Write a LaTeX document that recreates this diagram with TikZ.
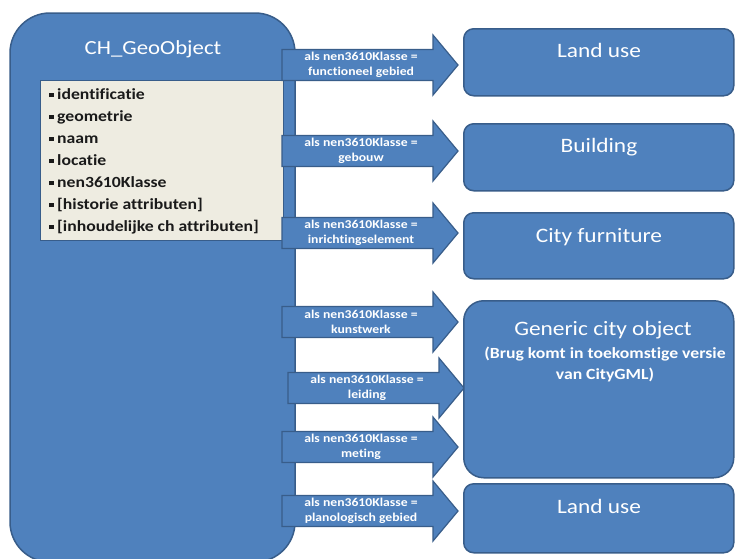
\documentclass[tikz,border=0pt]{standalone}
\usepackage{fontspec}
\setmainfont[FakeStretch=1.14, Ligatures=NoCommon]{Carlito}
\definecolor{boxblue}{HTML}{4F81BD}
\definecolor{edgeblue}{HTML}{385D8A}
\definecolor{paper}{HTML}{EEECE1}
\definecolor{ink}{HTML}{1A1A1A}

% block arrow: name, tail x, middle y, label
\newcommand\flowarrow[4]{%
  \draw[arrowbody] (#2,{#3-15.5}) -- ({#2+151},{#3-15.5}) -- ({#2+151},{#3-30})
    -- ({#2+176},#3) -- ({#2+151},{#3+30}) -- ({#2+151},{#3+15.5})
    -- (#2,{#3+15.5}) -- cycle;
  \node[arrowlabel] (#1) at ({#2+79},#3) {#4};
}

\begin{document}
\begin{tikzpicture}[x=1pt,y=-1pt,
  panel/.style={draw=edgeblue, line width=1.5pt, fill=boxblue},
  arrowbody/.style={draw=edgeblue, line width=1.2pt, fill=boxblue, line join=miter},
  arrowlabel/.style={text=white, align=center, inner sep=0pt,
    font=\fontsize{12}{15.5}\selectfont\bfseries},
  target/.style={panel, rounded corners=10pt, minimum width=270pt,
    anchor=north west, inner sep=0pt},
  boxtitle/.style={text=white, anchor=base, inner sep=0pt,
    font=\fontsize{20.5}{25}\selectfont},
  attr/.style={text=ink, anchor=base west, inner sep=0pt,
    font=\fontsize{15.5}{18}\selectfont\bfseries}
]
\useasboundingbox (0,0) rectangle (735,558);
\clip (0,0) rectangle (735,558);
\fill[white] (0,0) rectangle (735,558);

% main object
\draw[panel, rounded corners=40pt] (10,13) rectangle (295,562);
\node[text=white, anchor=base, inner sep=0pt,
  font=\fontsize{20}{24}\selectfont] (title) at (153,54) {CH\_GeoObject};
\node[draw=edgeblue, line width=1.2pt, fill=paper, anchor=north west,
  minimum width=243pt, minimum height=160pt, inner sep=0pt] (attrbox) at (40,80) {};
\foreach \t [count=\i] in {identificatie, geometrie, naam, locatie, nen3610Klasse,
    {[historie attributen]}, {[inhoudelijke ch attributen]}}
  \node[attr] (attr\i) at (49,{99+22*(\i-1)})
    {\rule[2pt]{4.5pt}{4.5pt}\hspace{3.5pt}\t};

% arrows
\flowarrow{a1}{282}{65}{als nen3610Klasse =\\functioneel gebied}
\flowarrow{a2}{282}{151}{als nen3610Klasse =\\gebouw}
\flowarrow{a3}{282}{233}{als nen3610Klasse =\\inrichtingselement}
\flowarrow{a4}{282}{322}{als nen3610Klasse =\\kunstwerk}
\flowarrow{a5}{288}{388}{als nen3610Klasse =\\leiding}
\flowarrow{a6}{282}{447}{als nen3610Klasse =\\meting}
\flowarrow{a7}{282}{511}{als nen3610Klasse =\\planologisch gebied}

% target classes
\node[target, minimum height=67pt] (lu1) at (463,28) {};
\node[boxtitle] (lu1t) at (599,57) {Land use};
\node[target, minimum height=67pt] (bld) at (463,123) {};
\node[boxtitle] (bldt) at (599,152) {Building};
\node[target, minimum height=66pt] (cf) at (463,212) {};
\node[boxtitle] (cft) at (599,242) {City furniture};
\node[target, minimum height=177pt, rounded corners=20pt] (gen) at (463,300) {};
\node[boxtitle] (gent) at (603,335) {Generic city object};
\node[text=white, align=center, anchor=base, inner sep=0pt,
  font=\fontsize{15.5}{21}\selectfont\bfseries] (gennote) at (605,379)
  {(Brug komt in toekomstige versie\\van CityGML)};
\node[target, minimum height=69pt] (lu2) at (463,483) {};
\node[boxtitle] (lu2t) at (599,513) {Land use};
\end{tikzpicture}
\end{document}
